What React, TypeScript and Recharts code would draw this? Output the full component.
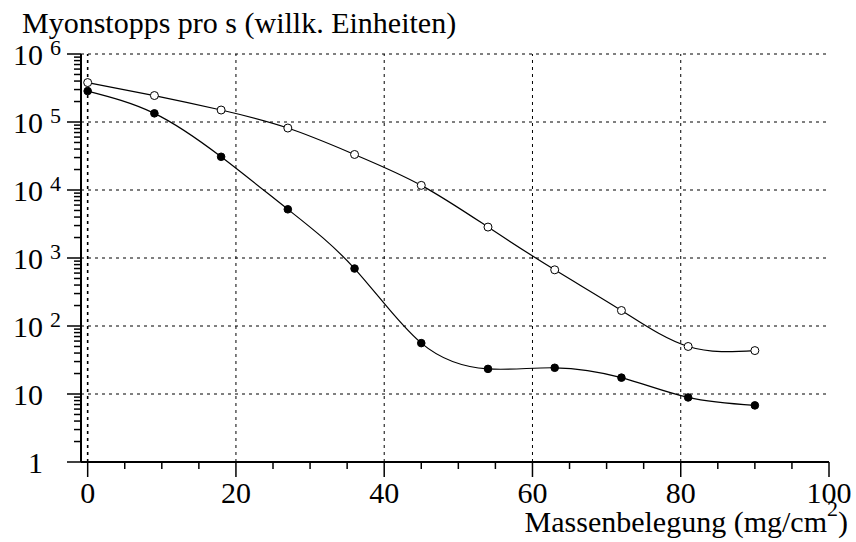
import { Line, LineChart, ReferenceLine, XAxis, YAxis } from "recharts"

const FONT = '"Liberation Serif", "Times New Roman", serif'

// Massenbelegung in mg/cm^2
const massenbelegung = [0, 9, 18, 27, 36, 45, 54, 63, 72, 81, 90]
// offene Kreise (obere Kurve)
const offeneKreise = [380000, 245000, 150000, 81500, 33300, 11700, 2850, 670, 169, 50, 43.5]
// volle Kreise (untere Kurve)
const volleKreise = [285000, 134000, 30800, 5200, 700, 56, 23.4, 24.3, 17.4, 8.9, 6.8]

const xTicks = [0, 5, 10, 15, 20, 25, 30, 35, 40, 45, 50, 55, 60, 65, 70, 75, 80, 85, 90, 95, 100]
const xGrid = [0, 20, 40, 60, 80]
const yMajor = [1, 10, 100, 1000, 10000, 100000, 1000000]
const yGrid = [10, 100, 1000, 10000, 100000, 1000000]

// minor ticks 2..9 within each decade
const yTicks: number[] = []
yMajor.forEach((d, i) => {
  yTicks.push(d)
  if (i < yMajor.length - 1) for (let k = 2; k <= 9; k++) yTicks.push(d * k)
})

const data = massenbelegung.map((m, i) => ({
  m,
  offen: offeneKreise[i],
  voll: volleKreise[i],
}))

function YTick(props: any) {
  const { x, y, payload } = props
  const v = payload.value
  const major = yMajor.includes(v)
  const exp = Math.round(Math.log10(v))
  return (
    <g>
      <line x1={x - (major ? 14 : 7)} x2={x} y1={y} y2={y} stroke="#000" strokeWidth={1.5} />
      {major && (
        <text x={x - 38} y={y + 10.5} textAnchor="end" fontSize={30} fontFamily={FONT} fill="#000">
          {exp <= 1 ? String(v) : "10"}
        </text>
      )}
      {major && exp >= 2 && (
        <text x={x - 31} y={y + 1} fontSize={22} fontFamily={FONT} fill="#000">
          {exp}
        </text>
      )}
    </g>
  )
}

function XTick(props: any) {
  const { x, y, payload } = props
  const v = payload.value
  const major = v % 20 === 0
  return (
    <g>
      <line x1={x} x2={x} y1={y} y2={y + (major ? 15 : 7)} stroke="#000" strokeWidth={1.5} />
      {major && (
        <text x={x} y={y + 41} textAnchor="middle" fontSize={30} fontFamily={FONT} fill="#000">
          {v}
        </text>
      )}
    </g>
  )
}

export default function App() {
  return (
    <div style={{ position: "absolute", left: 0, top: 0, background: "#fff" }}>
      <LineChart
        width={856}
        height={542}
        data={data}
        margin={{ top: 54, right: 27, bottom: 50, left: 21 }}
      >
        <XAxis
          dataKey="m"
          type="number"
          domain={[-0.9, 100]}
          allowDataOverflow
          ticks={xTicks}
          interval={0}
          tickSize={0}
          tickMargin={0}
          tickLine={false}
          tick={<XTick />}
          height={30}
          axisLine={{ stroke: "#000", strokeWidth: 2 }}
          label={{
            content: (p: any) => {
              const vb = p.viewBox
              return (
                <text
                  x={vb.x + vb.width + 19}
                  y={vb.y + 70}
                  textAnchor="end"
                  fontSize={30}
                  fontFamily={FONT}
                  fill="#000"
                >
                  Massenbelegung (mg/cm
                  <tspan dy={-16} fontSize={22}>2</tspan>
                  <tspan dy={16}>)</tspan>
                </text>
              )
            },
          }}
        />
        <YAxis
          scale="log"
          type="number"
          domain={[1, 1000000]}
          allowDataOverflow
          ticks={yTicks}
          interval={0}
          tickSize={0}
          tickMargin={0}
          tickLine={false}
          tick={<YTick />}
          width={60}
          axisLine={{ stroke: "#000", strokeWidth: 2 }}
          label={{
            content: () => (
              <text x={22} y={33} fontSize={30} fontFamily={FONT} fill="#000">
                Myonstopps pro s (willk. Einheiten)
              </text>
            ),
          }}
        />
        {xGrid.map((v) => (
          <ReferenceLine key={"x" + v} x={v} stroke="#000" strokeDasharray="3 4" strokeWidth={v === 0 ? 1.6 : 1} />
        ))}
        {yGrid.map((v) => (
          <ReferenceLine key={"y" + v} y={v} stroke="#000" strokeDasharray="3 4" strokeWidth={1} />
        ))}
        <Line
          type="natural"
          dataKey="offen"
          stroke="#000"
          strokeWidth={1.2}
          dot={{ r: 4, fill: "#fff", stroke: "#000", strokeWidth: 1 }}
          isAnimationActive={false}
        />
        <Line
          type="natural"
          dataKey="voll"
          stroke="#000"
          strokeWidth={1.2}
          dot={{ r: 3.8, fill: "#000", stroke: "#000", strokeWidth: 1 }}
          isAnimationActive={false}
        />
      </LineChart>
    </div>
  )
}
